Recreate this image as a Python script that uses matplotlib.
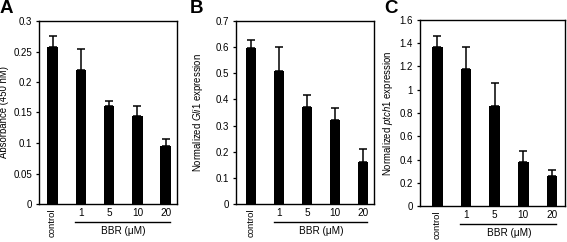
import numpy as np
import matplotlib
matplotlib.use("Agg")
import matplotlib.pyplot as plt
from matplotlib.ticker import FuncFormatter
from matplotlib.transforms import blended_transform_factory

plt.rcParams['font.family'] = ['Liberation Sans', 'DejaVu Sans']
plt.rcParams['mathtext.fontset'] = 'custom'
plt.rcParams['mathtext.rm'] = 'Liberation Sans'
plt.rcParams['mathtext.it'] = 'Liberation Sans:italic'

# Dati
categorie = ['control', '1', '5', '10', '20']

absorb = [0.257, 0.219, 0.161, 0.144, 0.095]
absorb_err = [0.019, 0.035, 0.008, 0.016, 0.012]

gli1 = [0.597, 0.508, 0.370, 0.322, 0.162]
gli1_err = [0.030, 0.093, 0.046, 0.045, 0.050]

ptch1 = [1.37, 1.18, 0.86, 0.38, 0.26]
ptch1_err = [0.09, 0.19, 0.20, 0.09, 0.05]

W, H = 567, 242
fig = plt.figure(figsize=(W / 100, H / 100), dpi=100)


def px_axes(left, top, right, bottom):
    return fig.add_axes([left / W, 1 - bottom / H, (right - left) / W, (bottom - top) / H])


def pannello(ax, vals, errs, ylim, step, ylabel, lab_x, xlim):
    x = np.arange(len(vals))
    ax.bar(x, vals, width=0.37, color='black', zorder=2)
    ax.errorbar(x, vals, yerr=[np.zeros(len(errs)), errs], fmt='none',
                ecolor='black', elinewidth=1.1, capsize=3.2, capthick=1.1, zorder=3)
    ax.set_ylim(0, ylim)
    ax.set_xlim(*xlim)
    ax.set_yticks(np.arange(0, ylim + step / 2, step))
    ax.yaxis.set_major_formatter(FuncFormatter(lambda v, p: '%g' % round(v, 3)))
    ax.tick_params(axis='y', labelsize=7, length=2.5, width=0.9, pad=2.5)
    ax.tick_params(axis='x', length=0, labelsize=7.2, pad=3)
    ax.set_xticks(x)
    ax.set_xticklabels(categorie)
    lbls = ax.get_xticklabels()
    lbls[0].set_rotation(90)
    lbls[0].set_va('top')
    lbls[0].set_fontsize(6.8)
    for s in ax.spines.values():
        s.set_linewidth(1.0)
    ax.set_ylabel(ylabel, fontsize=6.9)
    ax.yaxis.set_label_coords(lab_x, 0.5)
    # linea BBR
    tr = blended_transform_factory(ax.transData, ax.transAxes)
    ax.plot([0.8, 4.15], [-0.098, -0.098], color='black', lw=1.0,
            transform=tr, clip_on=False)
    ax.text(2.5, -0.12, 'BBR (\u03bcM)', transform=tr, ha='center', va='top',
            fontsize=7.2)


axA = px_axes(39, 21, 177, 204)
pannello(axA, absorb, absorb_err, 0.3, 0.05, 'Absorbance (450 nM)', -0.215, (-0.48, 4.4))

axB = px_axes(236, 21, 374, 204)
pannello(axB, gli1, gli1_err, 0.7, 0.1, 'Normalized $Gli1$ expression', -0.225, (-0.55, 4.4))

axC = px_axes(420, 20, 565, 206)
pannello(axC, ptch1, ptch1_err, 1.6, 0.2, 'Normalized $ptch1$ expression', -0.175, (-0.6, 4.45))

for lettera, xp in [('A', 0), ('B', 190), ('C', 384)]:
    fig.text(xp / W, 1.0, lettera, fontsize=13.5, fontweight='bold', ha='left', va='top')

fig.savefig('out.png', dpi=100)
